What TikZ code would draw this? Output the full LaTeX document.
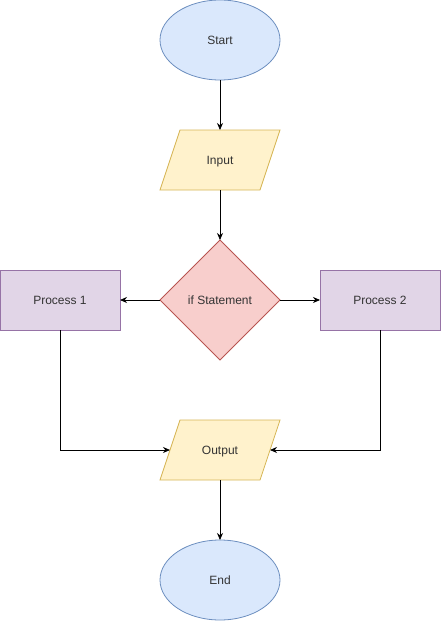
\documentclass[tikz,border=0pt]{standalone}
\usepackage{fontspec}
\setmainfont{Liberation Sans}
\usetikzlibrary{shapes.geometric,arrows.meta,calc,backgrounds}

\definecolor{blueFill}{HTML}{DAE8FC}
\definecolor{blueLine}{HTML}{6C8EBF}
\definecolor{yellowFill}{HTML}{FFF2CC}
\definecolor{yellowLine}{HTML}{D6B656}
\definecolor{redFill}{HTML}{F8CECC}
\definecolor{redLine}{HTML}{B85450}
\definecolor{purpleFill}{HTML}{E1D5E7}
\definecolor{purpleLine}{HTML}{9673A6}
\definecolor{textGray}{HTML}{333333}

% slanted input/output box behind a plain io node
\newcommand{\ioframe}[1]{%
	\draw [draw=yellowLine, fill=yellowFill, line width=0.8pt]
		($(#1.north west)+(10,0)$) -- ($(#1.north east)+(10,0)$) --
		($(#1.south east)+(-10,0)$) -- ($(#1.south west)+(-10,0)$) -- cycle;}

\begin{document}
\begin{tikzpicture}[x=1pt,y=-1pt,
	every node/.style={font=\fontsize{12}{14}\selectfont, text=textGray, inner sep=0pt, outer sep=0pt,
		text height=8.6pt, text depth=0pt, line width=0.8pt},
	terminal/.style={ellipse, draw=blueLine, fill=blueFill, minimum width=120pt, minimum height=80pt},
	io/.style={rectangle, minimum width=100pt, minimum height=60pt},
	decision/.style={diamond, shape aspect=1, draw=redLine, fill=redFill, minimum width=120pt, minimum height=120pt},
	process/.style={rectangle, draw=purpleLine, fill=purpleFill, minimum width=120pt, minimum height=60pt},
	flow/.style={line width=0.8pt, -{Stealth[length=7pt,width=6pt]}}]

	\useasboundingbox (0,0) rectangle (441,621);

	%% nodes
	\node [terminal] (start)  at (220,40)  {Start};
	\node [io]       (input)  at (220,160) {Input};
	\node [decision] (ifst)   at (220,300) {if Statement};
	\node [process]  (proc1)  at (60,300)  {Process 1};
	\node [process]  (proc2)  at (380,300) {Process 2};
	\node [io]       (output) at (220,450) {Output};
	\node [terminal] (finish) at (220,580) {End};

	\begin{scope}[on background layer]
		\ioframe{input}
		\ioframe{output}
	\end{scope}

	%% connectors
	\draw [flow] (start) -- (input);
	\draw [flow] (input) -- (ifst);
	\draw [flow] (ifst.west) -- (proc1.east);
	\draw [flow] (ifst.east) -- (proc2.west);
	\draw [flow] (proc1.south) |- (output.west);
	\draw [flow] (proc2.south) |- (output.east);
	\draw [flow] (output) -- (finish);

\end{tikzpicture}
\end{document}
